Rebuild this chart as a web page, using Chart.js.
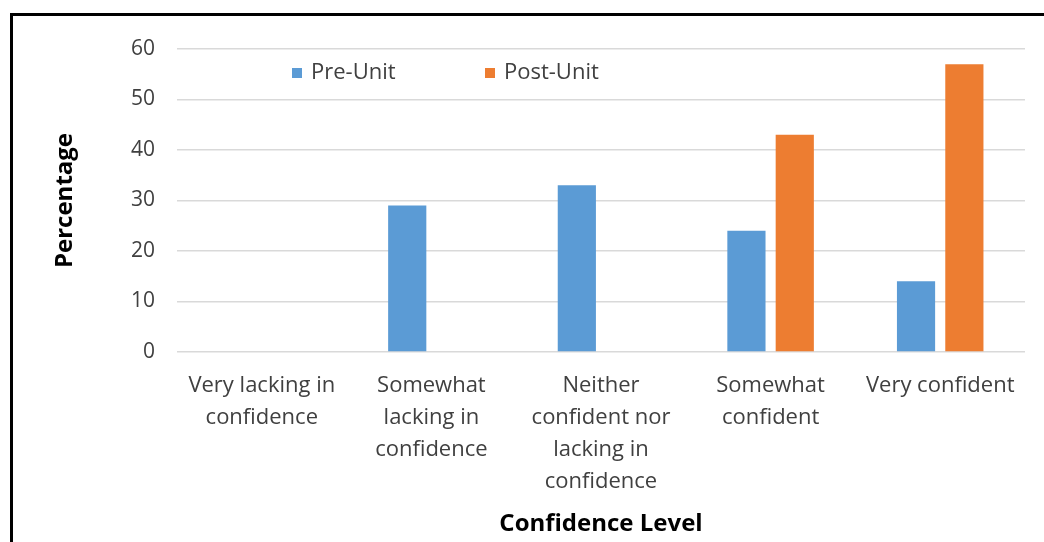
<!DOCTYPE html>
<html>
<head>
<meta charset="utf-8">
<script src="https://cdn.jsdelivr.net/npm/chart.js@4/dist/chart.umd.min.js"></script>
<style>
  html, body { margin: 0; padding: 0; background: #fff; overflow: hidden; }
  #wrap { position: relative; width: 1044px; height: 542px; }
  #frame { position: absolute; left: 10px; top: 13px; width: 1100px; height: 600px;
           border-left: 3px solid #000; border-top: 3px solid #000; box-sizing: border-box; }
  canvas { position: absolute; left: 0; top: 0; }
</style>
</head>
<body>
<div id="wrap">
  <div id="frame"></div>
  <canvas id="chart" width="1044" height="542"></canvas>
</div>
<script>
'use strict'

// data
const categories = [
	['Very lacking in', 'confidence'],
	['Somewhat', 'lacking in', 'confidence'],
	['Neither', 'confident nor', 'lacking in', 'confidence'],
	['Somewhat', 'confident'],
	['Very confident']
];
const preUnit = [0, 29, 33, 24, 14];
const postUnit = [0, 0, 0, 43, 57];
const yTicks = [0, 10, 20, 30, 40, 50, 60];

const fontFamily = '"Open Sans", sans-serif';

// legend drawn inside the plot area, like the original
let insideLegend = {
	id: 'insideLegend',
	afterDraw: (chart) => {
		let ctx = chart.ctx;
		let spots = [292, 485];
		ctx.save();
		ctx.font = '22px ' + fontFamily;
		ctx.textBaseline = 'middle';
		chart.data.datasets.forEach((ds, i) => {
			ctx.fillStyle = ds.backgroundColor;
			ctx.fillRect(spots[i], 68, 10, 10);
			ctx.fillStyle = '#404040';
			ctx.fillText(ds.label, spots[i] + 19, 73);
		});
		ctx.restore();
	}
};

let ctx = document.getElementById('chart').getContext('2d');
let chart = new Chart(ctx, {
	type: 'bar',
	data: {
		labels: categories,
		datasets: [
			{
				label: 'Pre-Unit',
				data: preUnit,
				backgroundColor: '#5b9bd5',
				categoryPercentage: 0.57,
				barPercentage: 0.79
			},
			{
				label: 'Post-Unit',
				data: postUnit,
				backgroundColor: '#ed7d31',
				categoryPercentage: 0.57,
				barPercentage: 0.79
			}
		]
	},
	options: {
		responsive: false,
		animation: false,
		layout: {
			padding: { top: 49, right: 19, left: 14, bottom: 0 }
		},
		plugins: {
			legend: { display: false },
			tooltip: { enabled: false }
		},
		scales: {
			x: {
				grid: { display: false, drawTicks: false },
				border: { display: false },
				ticks: {
					color: '#404040',
					font: { family: fontFamily, size: 22, lineHeight: 1.45 },
					padding: 18,
					maxRotation: 0,
					autoSkip: false
				},
				title: {
					display: true,
					text: 'Confidence Level',
					color: '#000',
					font: { family: fontFamily, size: 24, weight: 'bold' },
					padding: { top: 0, bottom: 3 }
				},
				afterFit: (scale) => { scale.height = 190; }
			},
			y: {
				min: 0,
				max: 60,
				afterBuildTicks: (scale) => {
					scale.ticks = yTicks.map((v) => ({ value: v }));
				},
				grid: { color: '#d9d9d9', lineWidth: 1.5, drawTicks: false },
				border: { display: false },
				ticks: {
					color: '#404040',
					font: { family: fontFamily, size: 21 },
					padding: 22
				},
				title: {
					display: true,
					text: 'Percentage',
					color: '#000',
					font: { family: fontFamily, size: 24, weight: 'bold' },
					padding: { top: 37, bottom: 0 }
				},
				afterFit: (scale) => { scale.width = 163; }
			}
		}
	},
	plugins: [insideLegend]
});
</script>
</body>
</html>
